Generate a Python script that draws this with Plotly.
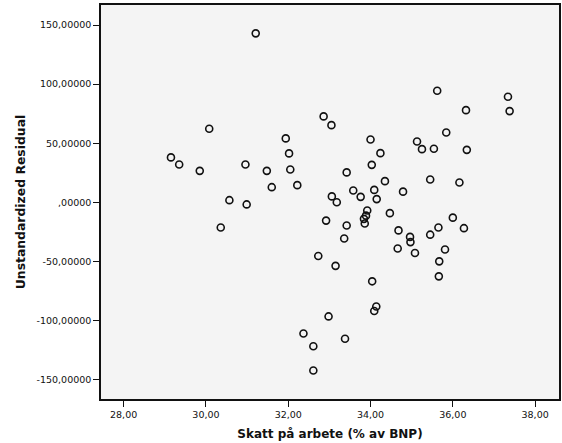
import plotly.graph_objects as go

# Skatt på arbete (% av BNP)
x_vals = [
    31.21, 30.08, 29.15, 29.35, 29.85, 30.96, 31.48, 31.60, 30.57, 30.99,
    30.36, 32.86, 33.05, 31.94, 32.02, 32.05, 32.22, 33.42, 33.06, 33.18,
    35.62, 37.34, 36.32, 37.38, 35.84, 34.00, 35.13, 35.25, 35.54, 36.34,
    34.24, 34.03, 35.45, 36.16, 34.35, 33.58, 34.09, 34.79, 33.76, 34.15,
    33.92, 33.89, 33.84, 33.86, 34.47, 36.00, 32.92, 33.42, 35.65, 36.27,
    34.68, 35.45, 34.96, 34.97, 33.36, 34.66, 35.08, 35.81, 32.73, 35.67,
    33.15, 35.66, 34.04, 34.14, 34.09, 32.98, 32.37, 33.38, 32.61, 32.61,
]
# Unstandardized Residual
y_vals = [
    143.0, 62.2, 38.0, 32.0, 26.6, 32.0, 26.6, 12.8, 1.8, -1.8,
    -21.3, 72.7, 65.3, 54.1, 41.4, 27.8, 14.5, 25.3, 5.0, 0.1,
    94.4, 89.3, 78.0, 77.2, 59.1, 53.2, 51.5, 45.0, 45.3, 44.4,
    41.6, 31.7, 19.3, 16.8, 17.9, 10.0, 10.5, 9.0, 4.6, 2.7,
    -6.9, -11.3, -14.0, -17.9, -9.2, -13.0, -15.5, -19.6, -21.3, -21.9,
    -23.8, -27.4, -29.3, -33.7, -30.6, -39.1, -42.9, -39.9, -45.4, -50.0,
    -53.8, -62.7, -66.9, -88.2, -92.0, -96.6, -111.0, -115.5, -121.8, -142.4,
]

x_ticks = [28, 30, 32, 34, 36, 38]
x_ticktext = ["28,00", "30,00", "32,00", "34,00", "36,00", "38,00"]
y_ticks = [150, 100, 50, 0, -50, -100, -150]
y_ticktext = ["150,00000", "100,00000", "50,00000", ",00000",
              "-50,00000", "-100,00000", "-150,00000"]

x_title = "Skatt på arbete (% av BNP)"
y_title = "Unstandardized Residual"

fig = go.Figure()
fig.add_trace(go.Scatter(
    x=x_vals, y=y_vals, mode="markers",
    marker=dict(symbol="circle-open", size=7, color="#111111",
                line=dict(width=1.6, color="#111111")),
    hoverinfo="x+y", showlegend=False,
))

axis_common = dict(
    showgrid=False, zeroline=False, showline=True, linecolor="#111111",
    linewidth=1.5, mirror=True, ticks="outside", ticklen=6, tickwidth=1.2,
    tickcolor="#111111",
    tickfont=dict(family="DejaVu Sans", size=9.5, color="#111111"),
)

fig.update_layout(
    width=562, height=443,
    margin=dict(l=101, r=1, t=5, b=44),
    paper_bgcolor="white", plot_bgcolor="#f4f4f4",
    font=dict(family="DejaVu Sans", color="#111111"),
    xaxis=dict(range=[27.45, 38.58], tickvals=x_ticks, ticktext=x_ticktext,
               title=dict(text="<b>" + x_title + "</b>", standoff=10,
                          font=dict(family="DejaVu Sans", size=12, color="#111111")),
               **axis_common),
    yaxis=dict(range=[-166.5, 167], tickvals=y_ticks, ticktext=y_ticktext,
               title=dict(text="<b>" + y_title + "</b>", standoff=8,
                          font=dict(family="DejaVu Sans", size=12.4, color="#111111")),
               **axis_common),
)

fig.write_html(
    "out.html",
    config={"displayModeBar": False},
    post_script="document.body.style.margin='0';document.body.style.overflow='hidden';",
)
